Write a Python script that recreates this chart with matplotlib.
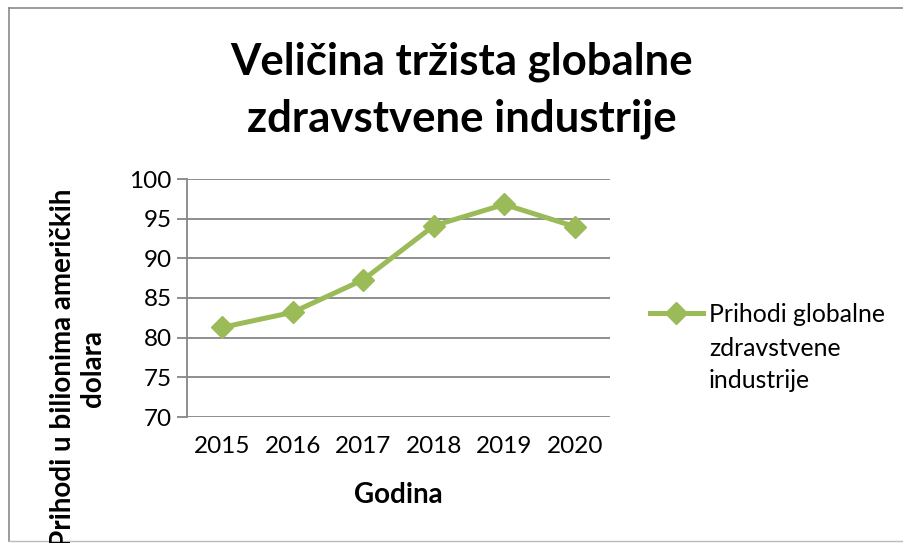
import matplotlib
matplotlib.use("Agg")
import matplotlib.pyplot as plt
from matplotlib.lines import Line2D

years = ["2015", "2016", "2017", "2018", "2019", "2020"]
revenue = [81.3, 83.2, 87.3, 94.1, 96.8, 94.0]
yticks = [70, 75, 80, 85, 90, 95, 100]

title_lines = ["Veličina tržista globalne", "zdravstvene industrije"]
xlabel = "Godina"
ylabel = "Prihodi u bilionima američkih\ndolara"
series_lines = ["Prihodi globalne", "zdravstvene", "industrije"]

W, H = 904, 543
plt.rcParams['font.family'] = ['Lato', 'DejaVu Sans']
fig = plt.figure(figsize=(W / 100, H / 100), dpi=100)

def fx(px):
    return px / W

def fy(py):
    return 1 - py / H

L, R, T, B = 187, 610, 179, 417
ax = fig.add_axes([fx(L), fy(B), fx(R) - fx(L), fy(T) - fy(B)])

grid_c = "#868686"
green = "#9BBB59"
x = list(range(len(years)))
ax.plot(x, revenue, color=green, lw=3.6, marker="D", markersize=11,
        markeredgecolor=green, markerfacecolor=green, solid_joinstyle="round")
ax.set_xlim(-0.5, len(years) - 0.5)
ax.set_ylim(70, 100)
ax.set_yticks(yticks)
ax.set_xticks(x)
ax.set_xticklabels(years)
ax.yaxis.grid(True, color=grid_c, lw=1.3)
ax.set_axisbelow(True)
for s in ["top", "right", "bottom"]:
    ax.spines[s].set_visible(False)
ax.spines["left"].set_color(grid_c)
ax.spines["left"].set_linewidth(1.3)
ax.tick_params(axis="y", length=7, width=1.3, color=grid_c, labelsize=17.5, pad=4)
ax.tick_params(axis="x", length=0, labelsize=17.5, pad=14)

for i, line in enumerate(title_lines):
    fig.text(fx(462), fy(62 + 57 * i), line, ha="center", va="center",
             fontsize=31.5, fontweight="bold")
fig.text(fx(398), fy(495), xlabel, ha="center", va="center", fontsize=20,
         fontweight="bold")
fig.text(fx(78), fy(189), ylabel, ha="center", va="top", rotation=90,
         fontsize=20, fontweight="bold", multialignment="center", linespacing=1.2)

# legend
fig.add_artist(Line2D([fx(650), fx(703)], [fy(313), fy(313)], color=green, lw=3.6))
fig.add_artist(Line2D([fx(676.5)], [fy(313)], color=green, marker="D", markersize=11))
for i, line in enumerate(series_lines):
    fig.text(fx(709), fy(315 + 33 * i), line, ha="left", va="center", fontsize=17.8)

# chart-area frame
bc = "#8a8a8a"
fig.add_artist(Line2D([fx(9), fx(9)], [fy(8), fy(541)], color=bc, lw=1.2))
fig.add_artist(Line2D([fx(9), 1], [fy(8), fy(8)], color=bc, lw=1.2))
fig.add_artist(Line2D([fx(9), 1], [fy(541), fy(541)], color="#bbbbbb", lw=1.0))

fig.savefig("out.png", dpi=100)
